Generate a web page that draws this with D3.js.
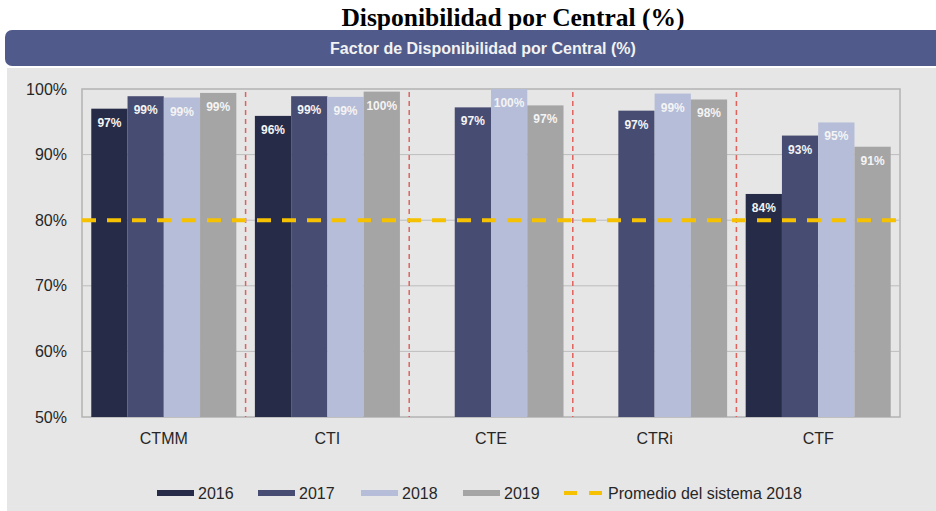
<!DOCTYPE html>
<html>
<head>
<meta charset="utf-8">
<script src="https://cdn.jsdelivr.net/npm/d3@7"></script>
<style>
  body { margin: 0; background: #fff; }
  svg text { font-family: "Liberation Sans", Arial, sans-serif; }
</style>
</head>
<body>
<svg id="chart" width="936" height="511"></svg>
<script>
// data
var centrales = ["CTMM", "CTI", "CTE", "CTRi", "CTF"];
var years = ["2016", "2017", "2018", "2019"];
var v2016 = [97.0, 95.9, null, null, 84.0];
var v2017 = [98.9, 98.9, 97.2, 96.7, 92.9];
var v2018 = [98.7, 98.8, 100.0, 99.3, 94.9];
var v2019 = [99.4, 99.6, 97.5, 98.4, 91.2];
var labels2016 = ["97%", "96%", "", "", "84%"];
var labels2017 = ["99%", "99%", "97%", "97%", "93%"];
var labels2018 = ["99%", "99%", "100%", "99%", "95%"];
var labels2019 = ["99%", "100%", "97%", "98%", "91%"];
var promedio2018 = 80;
var yTicks = [50, 60, 70, 80, 90, 100];
var colors = ["#262c47", "#474c72", "#b5bdd8", "#a5a5a5"];

var seriesVals = [v2016, v2017, v2018, v2019];
var seriesLabels = [labels2016, labels2017, labels2018, labels2019];

var svg = d3.select("#chart");

// outer title
svg.append("text")
    .attr("x", 513).attr("y", 26)
    .attr("text-anchor", "middle")
    .style("font-family", "'Liberation Serif', 'Times New Roman', serif")
    .style("font-weight", "bold")
    .style("font-size", "25.5px")
    .text("Disponibilidad por Central (%)");

// panel background
svg.append("rect")
    .attr("x", 7).attr("y", 68).attr("width", 940).attr("height", 460)
    .attr("fill", "#e6e6e6");

// banner
svg.append("rect")
    .attr("x", 5).attr("y", 30).attr("width", 950).attr("height", 36)
    .attr("rx", 7).attr("ry", 7)
    .attr("fill", "#505b8c");
svg.append("text")
    .attr("x", 483).attr("y", 54)
    .attr("text-anchor", "middle")
    .attr("fill", "#f2f2f2")
    .style("font-weight", "bold")
    .style("font-size", "16px")
    .text("Factor de Disponibilidad por Central (%)");

var pLeft = 82, pRight = 900, pTop = 89, pBottom = 417;

var x = d3.scaleBand().domain(centrales).range([pLeft, pRight]).paddingInner(0).paddingOuter(0);
var xi = d3.scaleBand().domain(years).range([0, x.bandwidth()]).paddingOuter(0.256).paddingInner(0);
var y = d3.scaleLinear().domain([50, 100]).range([pBottom, pTop]);

// plot area frame
svg.append("rect")
    .attr("x", pLeft).attr("y", pTop).attr("width", pRight - pLeft).attr("height", pBottom - pTop)
    .attr("fill", "none").attr("stroke", "#b3b3b3").attr("stroke-width", 1.5);

// gridlines
svg.append("g").selectAll("line")
    .data(yTicks.slice(1, -1))
    .enter().append("line")
    .attr("x1", pLeft).attr("x2", pRight)
    .attr("y1", function (d) { return y(d); })
    .attr("y2", function (d) { return y(d); })
    .attr("stroke", "#bdbdbd").attr("stroke-width", 1);

// y axis
var yAxis = svg.append("g")
    .attr("transform", "translate(" + pLeft + ",0)")
    .call(d3.axisLeft(y).tickValues(yTicks).tickSize(0).tickPadding(15)
        .tickFormat(function (d) { return d + "%"; }));
yAxis.select(".domain").remove();
yAxis.selectAll("text")
    .attr("fill", "#262626")
    .style("font-size", "16px");

// x axis labels
var xAxis = svg.append("g")
    .attr("transform", "translate(0," + pBottom + ")")
    .call(d3.axisBottom(x).tickSize(0).tickPadding(16));
xAxis.select(".domain").remove();
xAxis.selectAll("text")
    .attr("fill", "#262626")
    .style("font-size", "16px");

// bars
var groups = svg.append("g").selectAll("g")
    .data(centrales)
    .enter().append("g")
    .attr("transform", function (d) { return "translate(" + x(d) + ",0)"; });

groups.each(function (c, ci) {
    var g = d3.select(this);
    years.forEach(function (yr, si) {
        var v = seriesVals[si][ci];
        if (v == null) return;
        g.append("rect")
            .attr("x", xi(yr))
            .attr("y", y(v))
            .attr("width", xi.bandwidth())
            .attr("height", y(50) - y(v))
            .attr("fill", colors[si]);
        g.append("text")
            .attr("x", xi(yr) + xi.bandwidth() / 2)
            .attr("y", y(v) + 18)
            .attr("text-anchor", "middle")
            .attr("fill", "#f4f4f4")
            .style("font-weight", "bold")
            .style("font-size", "12px")
            .text(seriesLabels[si][ci]);
    });
});

// red dividers
svg.append("g").selectAll("line")
    .data(centrales.slice(1))
    .enter().append("line")
    .attr("x1", function (d) { return x(d); })
    .attr("x2", function (d) { return x(d); })
    .attr("y1", pTop + 3).attr("y2", pBottom)
    .attr("stroke", "#e0625c").attr("stroke-width", 1.5)
    .attr("stroke-dasharray", "5,4");

// system average line
svg.append("line")
    .attr("x1", pLeft).attr("x2", pRight)
    .attr("y1", y(promedio2018)).attr("y2", y(promedio2018))
    .attr("stroke", "#f5c100").attr("stroke-width", 4)
    .attr("stroke-dasharray", "14,11");

// legend
var legendX = [157, 258, 361, 463];
var legend = svg.append("g");
years.forEach(function (yr, i) {
    legend.append("rect")
        .attr("x", legendX[i]).attr("y", 490)
        .attr("width", 37).attr("height", 6)
        .attr("fill", colors[i]);
    legend.append("text")
        .attr("x", legendX[i] + 41).attr("y", 499)
        .attr("fill", "#262626")
        .style("font-size", "16px")
        .text(yr);
});
legend.append("line")
    .attr("x1", 564).attr("x2", 603).attr("y1", 493).attr("y2", 493)
    .attr("stroke", "#f5c100").attr("stroke-width", 4)
    .attr("stroke-dasharray", "13,12");
legend.append("text")
    .attr("x", 608).attr("y", 499)
    .attr("fill", "#262626")
    .style("font-size", "16px")
    .text("Promedio del sistema 2018");
</script>
</body>
</html>
